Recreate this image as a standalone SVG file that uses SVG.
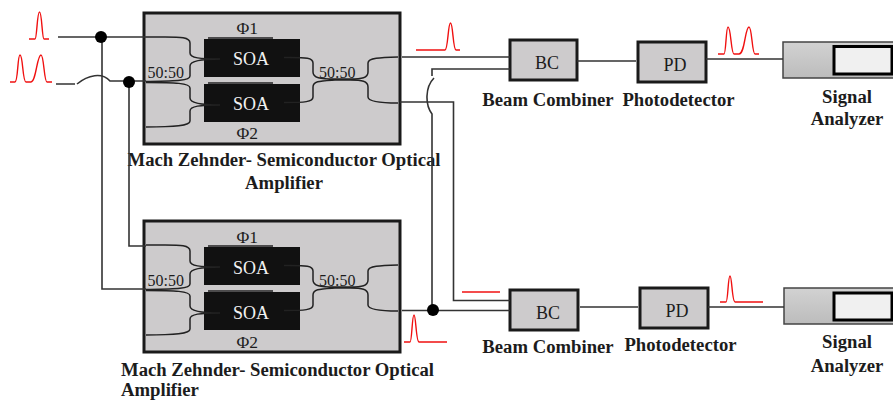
<svg xmlns="http://www.w3.org/2000/svg" xmlns:xlink="http://www.w3.org/1999/xlink" width="893" height="400" viewBox="0 0 893 400">
<style>
text{font-family:"Liberation Serif","Times New Roman",serif;fill:#1c1c1c}
.b{font-weight:bold;font-size:18.7px}
.m{text-anchor:middle}
.l{font-size:16px}
.f{font-size:17.500px}
.s{font-size:18px;fill:#f2f2f2;text-anchor:middle}
.t{font-size:18px;text-anchor:middle}
.box{fill:#cdcbcc;stroke:#1a1a1a;stroke-width:3}
.soa{fill:#111}
.w{fill:none;stroke:#222;stroke-width:1.5}
.c{fill:none;stroke:#333;stroke-width:1.6}
.p{fill:none;stroke:#f01010;stroke-width:1.4}
.d{fill:#000}
.inner{fill:#f0f0f0;stroke:#000;stroke-width:3}
.sa{fill:url(#g);stroke:#444;stroke-width:1.5}
</style>
<defs>
<linearGradient id="g" x1="0" y1="0" x2="0" y2="1"><stop offset="0" stop-color="#d2d2d2"/><stop offset="1" stop-color="#bcbcbc"/></linearGradient>
<path id="cpl" class="w" d="M146 37H165C180 37 190 37 190 43V53C190 58 200 59 220 59M220 59C200 59 190 61 190 66V76C190 81 175 81 146 81.500M146 82.500C175 82.500 190 83 190 88V98C190 103 200 105 220 105M220 105C200 105 190 106 190 111V121C190 126 175 127 146 127M284 57.500C305 57.500 313 57 313 63V72C313 78 320 79 335 79H350C362 79 368 78 368 72V63C368 58 380 57.500 398 57M284 102.500C305 102.500 313 102 313 97V87C313 81 320 81 335 80H350C362 80 368 81 368 87V97C368 101 380 103 398 103"/>
</defs>
<g id="mz1">
<rect class="box" x="144" y="13" width="256" height="131"/>
<rect class="soa" x="204" y="39" width="96" height="38"/>
<rect class="soa" x="204" y="84" width="96" height="38"/>
<path class="w" d="M208 38H273M208 83H273"/>
<use xlink:href="#cpl" href="#cpl"/>
<text class="f" x="236.500" y="34">Φ1</text>
<text class="f" x="236.500" y="139">Φ2</text>
<text class="s" x="251" y="65">SOA</text>
<text class="s" x="251" y="110">SOA</text>
<text class="l" x="147.500" y="78">50:50</text>
<text class="l" x="319" y="78">50:50</text>
<text class="b m" x="284" y="166">Mach Zehnder- Semiconductor Optical</text>
<text class="b m" x="284" y="189">Amplifier</text>
</g>
<g id="mz2">
<rect class="box" x="144" y="221" width="256" height="131"/>
<rect class="soa" x="204" y="247" width="96" height="38"/>
<rect class="soa" x="204" y="292" width="96" height="38"/>
<path class="w" d="M208 246H273M208 291H273"/>
<use xlink:href="#cpl" href="#cpl" transform="translate(0 208)"/>
<text class="f" x="236.500" y="242.500">Φ1</text>
<text class="f" x="236.500" y="348">Φ2</text>
<text class="s" x="251" y="274">SOA</text>
<text class="s" x="251" y="319">SOA</text>
<text class="l" x="147.500" y="286">50:50</text>
<text class="l" x="319" y="286">50:50</text>
<text class="b" x="121" y="376">Mach Zehnder- Semiconductor Optical</text>
<text class="b" x="121" y="395.500">Amplifier</text>
</g>
<g id="bc1"><rect class="box" x="510" y="40" width="67" height="40"/><text class="t" x="547" y="69">BC</text><text class="b m" x="548" y="106">Beam Combiner</text></g>
<g id="pd1"><rect class="box" x="638" y="42" width="68" height="40"/><text class="t" x="675" y="71">PD</text><text class="b m" x="678.500" y="106">Photodetector</text></g>
<g id="sa1"><rect class="sa" x="783" y="42" width="112" height="36"/><rect class="inner" x="834" y="46.500" width="58" height="27.500"/><text class="b m" x="847" y="103">Signal</text><text class="b m" x="847" y="125">Analyzer</text></g>
<g id="bc2"><rect class="box" x="510" y="290" width="68" height="40"/><text class="t" x="548" y="319">BC</text><text class="b m" x="548" y="353">Beam Combiner</text></g>
<g id="pd2"><rect class="box" x="640" y="288" width="68" height="40"/><text class="t" x="677" y="317">PD</text><text class="b m" x="680.500" y="351">Photodetector</text></g>
<g id="sa2"><rect class="sa" x="784" y="288" width="111" height="36"/><rect class="inner" x="834" y="293" width="58" height="27"/><text class="b m" x="847" y="348">Signal</text><text class="b m" x="847" y="372">Analyzer</text></g>
<g id="connectors">
<path class="c" d="M58 37H146M102 37V289H146"/>
<path class="c" d="M56 84H75M77 84C88 75 102 72 110 81H146M129 82V246H146"/>
<path class="c" d="M402 57H510M400 102H453.500V300.500H510M432 76V69H510M434 78C425 87 425 105 432 114V310M402 310.500H510"/>
<path class="c" d="M577 61H636M580 307H638M706 59H783M708 307H784"/>
<circle class="d" cx="101" cy="37" r="6"/>
<circle class="d" cx="129" cy="82" r="6"/>
<circle class="d" cx="433" cy="310" r="6"/>
</g>
<g id="pulses">
<path class="p" d="M29 39H35C37 39 37 12 39.500 12C42 12 42 39 44 39H49"/>
<path class="p" d="M10 82H15C18 82 17.500 55 20 55C23 55 22.500 82 26 82H31C36 82 37 55 41 55C44 55 44 82 47 82H52"/>
<path class="p" d="M416 50H445C448 50 448 23 450.500 23C453 23 453 50 456 50H460"/>
<path class="p" d="M718 54H724C726 54 726 27 728 27C731 27 731 54 734 54H739C745 54 745 27 749 27C752 27 752 54 755 54H759"/>
<path class="p" d="M462 292H500"/>
<path class="p" d="M404 342H410C412 342 412 315 414 315C416 315 416 342 419 342H447"/>
<path class="p" d="M720 302H726C728 302 728 276 730 276C732 276 732 302 735 302H763"/>
</g>
</svg>
